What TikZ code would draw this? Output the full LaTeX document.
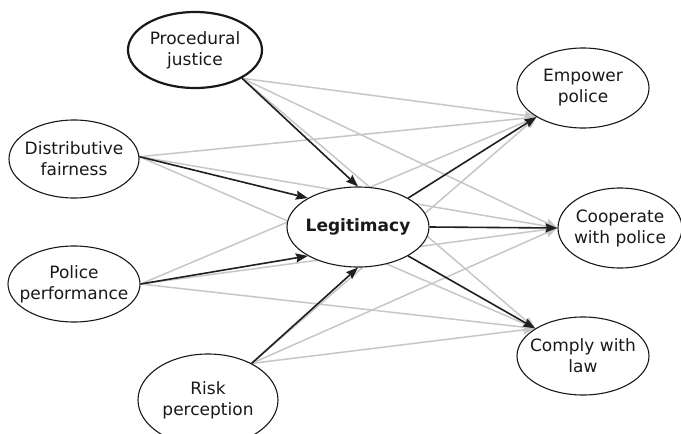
\documentclass[tikz,border=0pt]{standalone}
\usepackage{fontspec}
\setmainfont{DejaVu Sans}
\usetikzlibrary{shapes.geometric,arrows.meta}
\pgfdeclarelayer{bg}
\pgfsetlayers{bg,main}
\begin{document}
\begin{tikzpicture}[x=1pt,y=-1pt,
  ell/.style={ellipse,draw=black!90,line width=1.1pt,fill=white,inner sep=0pt},
  txt/.style={align=center,inner sep=0pt,text=black!90,font=\fontsize{17}{21}\selectfont},
  strong/.style={draw=black!88,line width=1.6pt,-{Stealth[length=12pt,width=9pt,inset=1.5pt]}},
  weak/.style={draw=black!22,line width=1.5pt,-{Stealth[length=12pt,width=9pt,inset=1.5pt]}}]
\useasboundingbox (0,0) rectangle (681,434);
\node[ell,line width=2.2pt,minimum width=134pt,minimum height=76pt,
  label={[txt]center:{Procedural\\justice}}] (pj) at (195,50) {};
\node[ell,minimum width=130pt,minimum height=78pt,
  label={[txt]center:{Distributive\\fairness}}] (df) at (74,159) {};
\node[ell,minimum width=132pt,minimum height=76pt,
  label={[txt]center:{Police\\performance}}] (pp) at (74,284) {};
\node[ell,minimum width=140pt,minimum height=92pt,
  label={[txt]center:{Risk\\perception}}] (rp) at (208,400) {};
\node[ell,minimum width=142pt,minimum height=80pt,
  label={[txt,font=\fontsize{17}{21}\selectfont\bfseries]center:Legitimacy}] (lg) at (358,227) {};
\node[ell,minimum width=132pt,minimum height=80pt,
  label={[txt]center:{Empower\\police}}] (ep) at (583,88) {};
\node[ell,minimum width=124pt,minimum height=80pt,
  label={[txt]center:{Cooperate\\with police}}] (cp) at (620,228) {};
\node[ell,minimum width=132pt,minimum height=78pt,
  label={[txt]center:{Comply with\\law}}] (cl) at (583,356) {};
\begin{pgfonlayer}{bg}
\fill[white] (0,0) rectangle (681,434);
\foreach \s/\a in {pj/-31,df/2,pp/0,rp/40}{
  \draw[weak] (\s.\a) -- (ep.212);
  \draw[weak] (\s.\a) -- (cp.west);
  \draw[weak] (\s.\a) -- (cl.150);
}
\end{pgfonlayer}
\draw[strong] (pj.-31) -- (lg.north);
\draw[strong] (df.2) -- (lg.150);
\draw[strong] (pp.0) -- (lg.210);
\draw[strong] (rp.40) -- (lg.south);
\draw[strong] (lg.30) -- (ep.212);
\draw[strong] (lg.east) -- (cp.west);
\draw[strong] (lg.-30) -- (cl.150);
\end{tikzpicture}
\end{document}
